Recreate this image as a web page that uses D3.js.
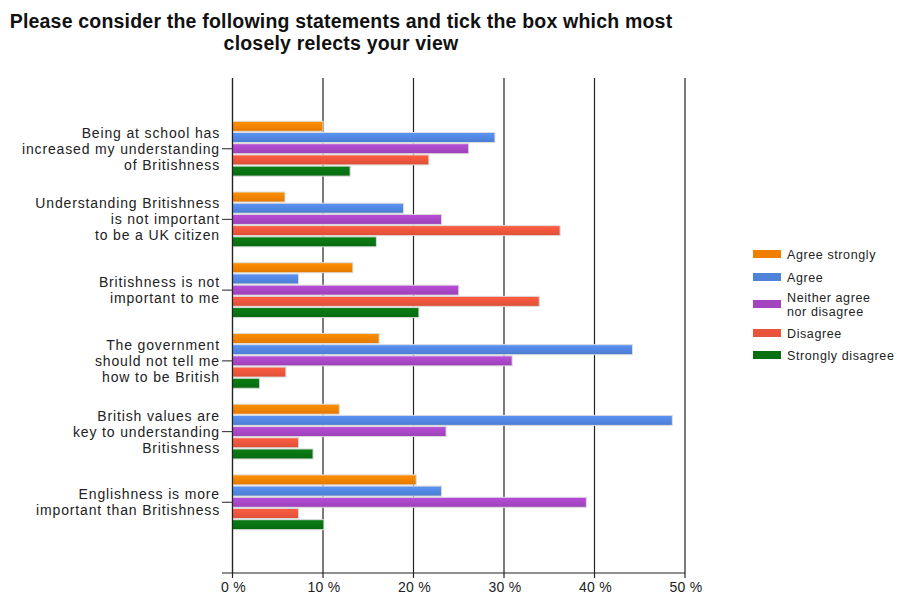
<!DOCTYPE html>
<html><head><meta charset="utf-8">
<script src="https://cdn.jsdelivr.net/npm/d3@7"></script>
<style>body{margin:0;background:#fff}svg{display:block}text{font-family:"Liberation Sans",Arial,sans-serif}</style>
</head><body>
<script>
const categories = [
  ["Being at school has","increased my understanding","of Britishness"],
  ["Understanding Britishness","is not important","to be a UK citizen"],
  ["Britishness is not","important to me"],
  ["The government","should not tell me","how to be British"],
  ["British values are","key to understanding","Britishness"],
  ["Englishness is more","important than Britishness"]
];
const seriesNames = [["Agree strongly"],["Agree"],["Neither agree","nor disagree"],["Disagree"],["Strongly disagree"]];
const agreeStrongly   = [10.0, 5.8, 13.3, 16.2, 11.8, 20.3];
const agree           = [29.0, 18.9, 7.3, 44.2, 48.6, 23.1];
const neither         = [26.1, 23.1, 25.0, 30.9, 23.6, 39.1];
const disagree        = [21.7, 36.2, 33.9, 5.9, 7.3, 7.3];
const stronglyDisagree= [13.0, 15.9, 20.6, 3.0, 8.9, 10.1];
const tickValues = [0,10,20,30,40,50];
const colors = ["#f07f00","#4f83da","#a445c0","#e8533a","#097012"];
const seriesValues = [agreeStrongly, agree, neither, disagree, stronglyDisagree];

(function(){
const W=897,H=597;
const svg=d3.select("body").append("svg").attr("width",W).attr("height",H);
const defs=svg.append("defs");
colors.forEach((c,i)=>{
  const g=defs.append("linearGradient").attr("id","g"+i).attr("x1",0).attr("y1",0).attr("x2",0).attr("y2",1);
  g.append("stop").attr("offset","0%").attr("stop-color",d3.color(c).brighter(0.35));
  g.append("stop").attr("offset","100%").attr("stop-color",d3.color(c).darker(0.15));
});

const pL=232.5,pR=685,pT=78,pB=573;
const x=d3.scaleLinear().domain([0,50]).range([pL,pR]);
const catIdx=d3.range(categories.length);
const y=d3.scalePoint().domain(catIdx).range([pT,pB]).padding(1);
const barPitch=11.2, barH=10;
const yb=d3.scaleBand().domain(d3.range(5)).range([-barPitch*2.5,barPitch*2.5]).padding(0);

// title
const t=svg.append("text").attr("text-anchor","middle").attr("font-weight","bold").attr("font-size",19.5)
  .attr("letter-spacing",0.2).attr("fill","#111");
t.append("tspan").attr("x",341).attr("y",28).text("Please consider the following statements and tick the box which most");
t.append("tspan").attr("x",341).attr("y",50).text("closely relects your view");

// gridlines
svg.append("g").selectAll("line").data(tickValues).join("line")
  .attr("x1",d=>x(d)).attr("x2",d=>x(d)).attr("y1",pT).attr("y2",pB+5)
  .attr("stroke","#222").attr("stroke-width",1.2);
// bottom axis line
svg.append("line").attr("x1",222).attr("x2",pR).attr("y1",pB).attr("y2",pB).attr("stroke","#222").attr("stroke-width",1.2);
// x labels
svg.append("g").selectAll("text").data(tickValues).join("text")
  .attr("x",d=>x(d)+1).attr("y",592).attr("text-anchor","middle").attr("font-size",14).attr("letter-spacing",0.3).attr("fill","#222")
  .text(d=>d+" %");

// bars
const groups=svg.append("g").selectAll("g").data(catIdx).join("g")
  .attr("transform",i=>`translate(0,${y(i)})`);
groups.selectAll("rect").data(i=>seriesValues.map((s,k)=>({k,v:s[i]}))).join("rect")
  .attr("x",x(0)).attr("y",d=>yb(d.k)+(barPitch-barH)/2)
  .attr("width",d=>x(d.v)-x(0)).attr("height",barH)
  .attr("fill",d=>`url(#g${d.k})`).attr("stroke","#dcdcdc").attr("stroke-width",1);

// left axis line
svg.append("line").attr("x1",pL).attr("x2",pL).attr("y1",pT).attr("y2",pB).attr("stroke","#222").attr("stroke-width",1.2);
// category ticks and labels
catIdx.forEach(i=>{
  const cy=y(i);
  svg.append("line").attr("x1",222).attr("x2",pL).attr("y1",cy).attr("y2",cy).attr("stroke","#444").attr("stroke-width",1.2);
  const lines=categories[i];
  const lh=16;
  const tx=svg.append("text").attr("text-anchor","end").attr("font-size",14).attr("letter-spacing",0.85).attr("fill","#222");
  lines.forEach((l,j)=>{
    tx.append("tspan").attr("x",220).attr("y",cy+(j-(lines.length-1)/2)*lh+5).text(l);
  });
});

// legend
const legY=[254,277,304,333,355];
seriesNames.forEach((n,k)=>{
  svg.append("rect").attr("x",753).attr("y",legY[k]-4).attr("width",28).attr("height",8).attr("fill",colors[k]);
  n.forEach((l,j)=>{
    svg.append("text").attr("font-size",12.5).attr("letter-spacing",0.6).attr("fill","#222")
      .attr("x",787).attr("y",legY[k]+4.5+(j-(n.length-1)/2)*14).text(l);
  });
});
})();
</script>
</body></html>
